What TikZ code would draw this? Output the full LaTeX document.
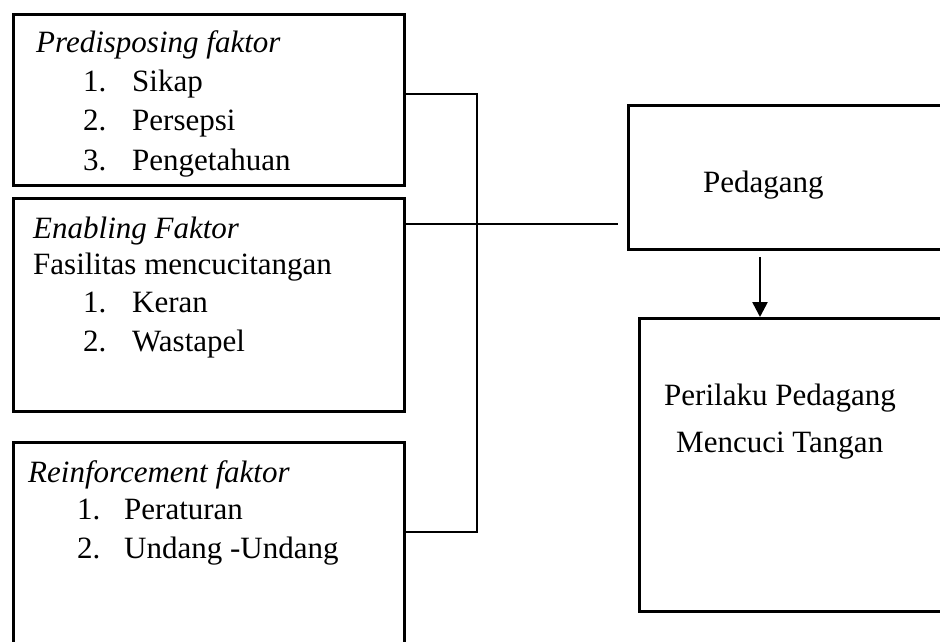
\documentclass[tikz,border=0pt]{standalone}
\usepackage{fontspec}
\setmainfont{Liberation Serif}
\usetikzlibrary{arrows.meta}
\begin{document}
\begin{tikzpicture}[x=1pt,y=-1pt,
  boxst/.style={draw=black, line width=2.6pt, rectangle, inner sep=0pt, anchor=north west},
  txt/.style={anchor=base west, inner sep=0pt, font=\fontsize{31}{37}\selectfont},
  conn/.style={draw=black, line width=1.1pt},
  arr/.style={draw=black, line width=2.6pt, -{Triangle[width=15pt,length=15pt]}}]
\useasboundingbox (0,0) rectangle (940,641);
\clip (0,0) rectangle (940,641);
\fill[white] (0,0) rectangle (940,641);
% boxes
\node[boxst, minimum width=391pt, minimum height=171pt] (pre) at (12,13) {};
\node[boxst, minimum width=391pt, minimum height=213pt] (enab) at (12,197) {};
\node[boxst, minimum width=391pt, minimum height=230pt] (reinf) at (12,441) {};
\node[boxst, minimum width=330pt, minimum height=144pt] (ped) at (627,104) {};
\node[boxst, minimum width=330pt, minimum height=293pt] (peri) at (638,317) {};
% texts box 1
\node[txt] (t1) at (36,52) {\itshape Predisposing faktor};
\node[txt] (n11) at (83,91) {1.};
\node[txt] (t11) at (132,91) {Sikap};
\node[txt] (n12) at (83,130) {2.};
\node[txt] (t12) at (132,130) {Persepsi};
\node[txt] (n13) at (83,170) {3.};
\node[txt] (t13) at (132,170) {Pengetahuan};
% texts box 2
\node[txt] (t2) at (33,238) {\itshape Enabling Faktor};
\node[txt] (t2b) at (33,274) {Fasilitas mencucitangan};
\node[txt] (n21) at (83,312) {1.};
\node[txt] (t21) at (132,312) {Keran};
\node[txt] (n22) at (83,351) {2.};
\node[txt] (t22) at (132,351) {Wastapel};
% texts box 3
\node[txt] (t3) at (28,482) {\itshape Reinforcement faktor};
\node[txt] (n31) at (77,519) {1.};
\node[txt] (t31) at (124,519) {Peraturan};
\node[txt] (n32) at (77,558) {2.};
\node[txt] (t32) at (124,558) {Undang -Undang};
% right texts
\node[txt] (tp) at (703,192) {Pedagang};
\node[txt] (tq1) at (664,405) {Perilaku Pedagang};
\node[txt] (tq2) at (676,452) {Mencuci Tangan};
% connectors
\coordinate (ja) at (477,94);
\coordinate (jb) at (477,532);
\coordinate (jm) at (477,224);
\coordinate (jend) at (618,224);
\draw[conn] (pre.east |- ja) -- (ja) -- (jb) -- (reinf.east |- jb);
\draw[conn] (enab.east |- jm) -- (jend);
\coordinate (as) at (760,257);
\draw[arr] (as) -- (as |- peri.north);
\end{tikzpicture}
\end{document}
